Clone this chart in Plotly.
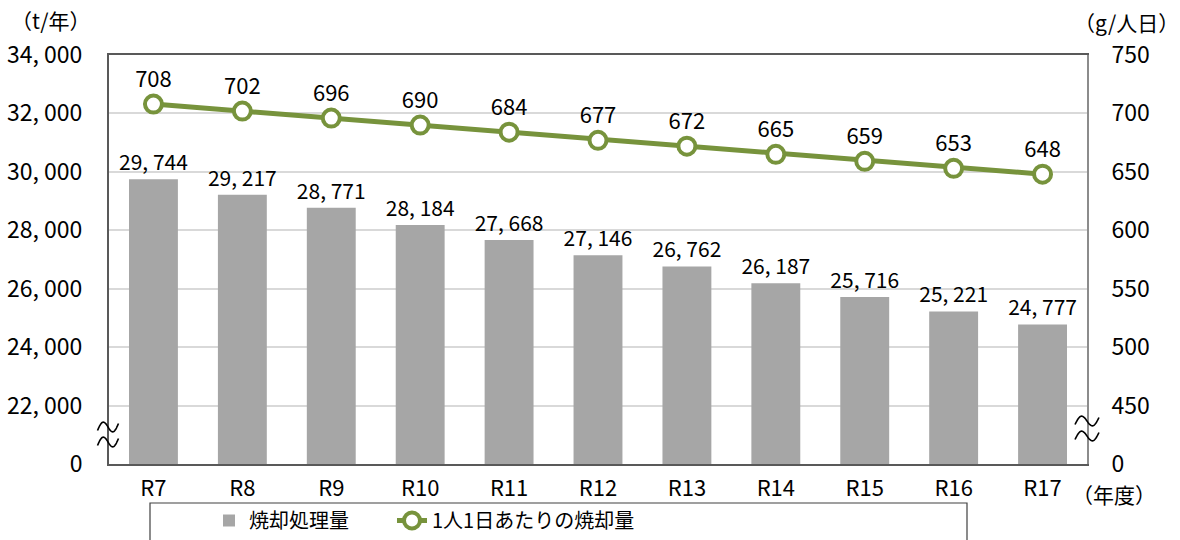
import numpy as np
import plotly.graph_objects as go

# Data
years = ["R7", "R8", "R9", "R10", "R11", "R12", "R13", "R14", "R15", "R16", "R17"]
incinerated = [29744, 29217, 28771, 28184, 27668, 27146, 26762, 26187, 25716, 25221, 24777]
per_capita = [708, 702, 696, 690, 684, 677, 672, 665, 659, 653, 648]

left_ticks = [20000, 22000, 24000, 26000, 28000, 30000, 32000, 34000]
right_ticks = [400, 450, 500, 550, 600, 650, 700, 750]


def jp_num(v):
    return f"{v:,}".replace(",", ", ")


left_ticktext = ["0"] + [jp_num(v) for v in left_ticks[1:]]
right_ticktext = ["0"] + [str(v) for v in right_ticks[1:]]

FONT = "Noto Sans CJK JP"
GREEN = "#77933C"
BAR = "#A6A6A6"

# figure geometry (pixels)
W, H = 1180, 540
L, R, T, B = 109, 1087, 55, 464


def px(x):
    return (x - L) / (R - L)


def py(y):
    return (B - y) / (B - T)


fig = go.Figure()

fig.add_trace(go.Bar(
    x=years, y=incinerated, name="焼却処理量",
    marker=dict(color=BAR, line=dict(width=0)),
    width=0.55,
    text=[jp_num(v) for v in incinerated],
    textposition="outside",
    constraintext="none",
    textfont=dict(family=FONT, size=21, color="#000000"),
    cliponaxis=False,
    yaxis="y",
    legend="legend",
))

fig.add_trace(go.Scatter(
    x=years, y=per_capita, name="1人1日あたりの焼却量",
    mode="lines+markers+text",
    line=dict(color=GREEN, width=5),
    marker=dict(symbol="circle", size=17, color="#FFFFFF",
                line=dict(color=GREEN, width=4)),
    text=[str(v) for v in per_capita],
    textposition="top center",
    textfont=dict(family=FONT, size=22, color="#000000"),
    cliponaxis=False,
    yaxis="y2",
    legend="legend2",
))


# axis-break marks (double wave) drawn as polylines
def wave_path(cx, cy, w, amp=6.5, tilt=7.0, n=40):
    pts = []
    for i in range(n + 1):
        t = i / n
        x = cx - w / 2 + w * t
        y = cy + tilt * (0.5 - t) - amp * np.sin(2 * np.pi * t)
        pts.append((px(x), py(y)))
    return "M " + " L ".join(f"{a:.5f},{b:.5f}" for a, b in pts)


shapes = []
for cx, cys, w in [(108, (427, 442), 21), (1087, (421, 436), 24)]:
    for cy in cys:
        shapes.append(dict(type="path", xref="paper", yref="paper",
                           path=wave_path(cx, cy, w),
                           line=dict(color="#000000", width=1.6)))

# legend frame
shapes.append(dict(type="rect", xref="paper", yref="paper",
                   x0=px(150), x1=px(967), y0=py(560), y1=py(503),
                   line=dict(color="#404040", width=1.2),
                   fillcolor="rgba(0,0,0,0)", layer="above"))

title_font = dict(family=FONT, size=21, color="#000000")
annotations = [
    dict(text="（t/年）", x=px(50), y=py(20), xref="paper", yref="paper",
         xanchor="center", yanchor="middle", showarrow=False, font=title_font),
    dict(text="（g/人日）", x=px(1126), y=py(22), xref="paper", yref="paper",
         xanchor="center", yanchor="middle", showarrow=False, font=title_font),
    dict(text="（年度）", x=px(1114), y=py(494), xref="paper", yref="paper",
         xanchor="center", yanchor="middle", showarrow=False, font=title_font),
]

legend_common = dict(orientation="h", xref="container", yref="container",
                     xanchor="left", yanchor="top",
                     font=dict(family=FONT, size=20, color="#000000"),
                     bgcolor="rgba(0,0,0,0)", borderwidth=0, itemwidth=30)

fig.update_layout(
    width=W, height=H,
    margin=dict(l=L, r=W - R, t=T, b=H - B, autoexpand=False),
    paper_bgcolor="#FFFFFF", plot_bgcolor="#FFFFFF",
    font=dict(family=FONT, color="#000000"),
    showlegend=True,
    legend=dict(x=209 / W, y=1 - 501 / H, **legend_common),
    legend2=dict(x=392 / W, y=1 - 501 / H, **legend_common),
    bargap=0.45,
    xaxis=dict(
        type="category", range=[-0.5, len(years) - 0.5], showgrid=False,
        showline=True, linecolor="#595959", linewidth=2, mirror=True,
        ticks="", tickfont=dict(family=FONT, size=22, color="#000000"),
        ticklabelstandoff=4,
    ),
    yaxis=dict(
        range=[20000, 34000], tickvals=left_ticks, ticktext=left_ticktext,
        showgrid=True, gridcolor="#D9D9D9", gridwidth=1.5,
        showline=True, linecolor="#595959", linewidth=2,
        ticks="", tickfont=dict(family=FONT, size=23, color="#000000"),
        ticklabelstandoff=20, zeroline=False,
    ),
    yaxis2=dict(
        range=[400, 750], tickvals=right_ticks, ticktext=right_ticktext,
        overlaying="y", side="right", showgrid=False,
        showline=True, linecolor="#8C8C8C", linewidth=2,
        ticks="", tickfont=dict(family=FONT, size=23, color="#000000"),
        ticklabelstandoff=18, zeroline=False,
    ),
    shapes=shapes,
    annotations=annotations,
)

fig.write_html("out.html")
